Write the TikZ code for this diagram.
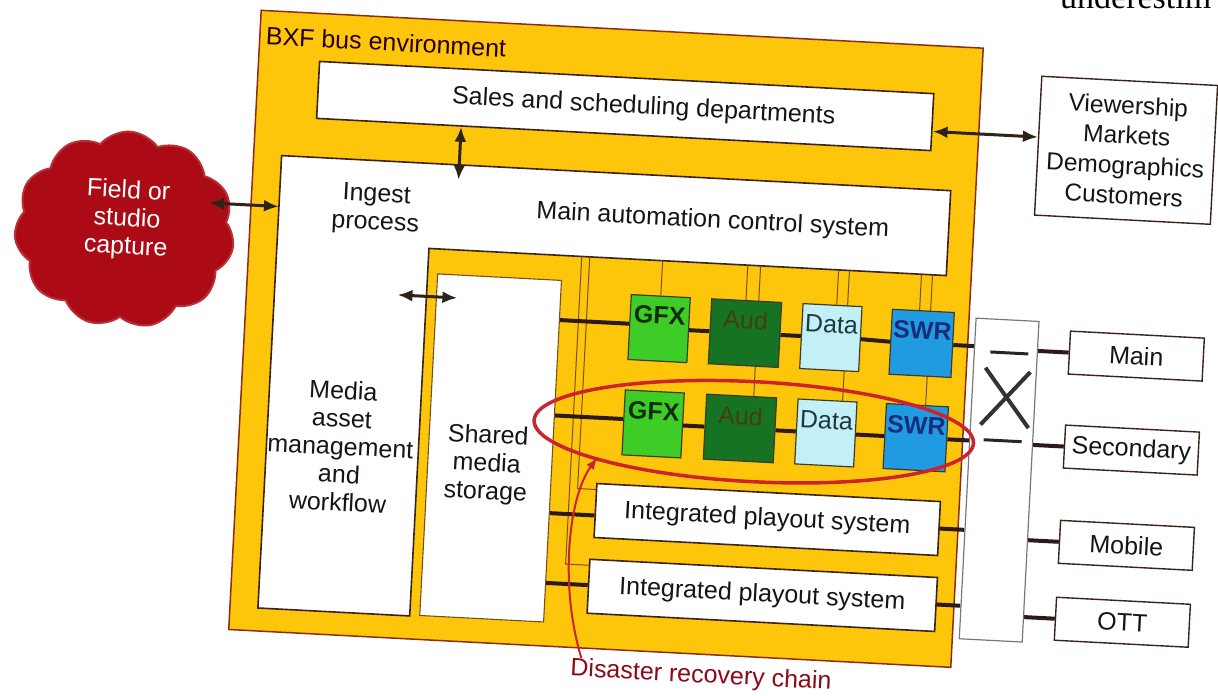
\documentclass[tikz,border=0pt]{standalone}
\usepackage{fontspec}
\setmainfont{Liberation Sans}
\newfontfamily\fragfont{Liberation Serif}
\usetikzlibrary{arrows.meta,shapes.symbols,calc}
\pgfdeclarelayer{base}
\pgfdeclarelayer{lines}
\pgfsetlayers{base,lines,main}
\definecolor{yel}{RGB}{253,198,10}
\definecolor{outerline}{RGB}{140,45,20}
\definecolor{boxline}{RGB}{60,35,25}
\definecolor{thinc}{RGB}{120,80,30}
\definecolor{connc}{RGB}{45,25,25}
\definecolor{arrc}{RGB}{45,35,25}
\definecolor{txt}{RGB}{25,20,20}
\definecolor{gfxc}{RGB}{62,205,38}
\definecolor{gfxt}{RGB}{12,45,12}
\definecolor{audc}{RGB}{22,115,35}
\definecolor{audt}{RGB}{70,60,20}
\definecolor{datc}{RGB}{195,240,246}
\definecolor{datt}{RGB}{30,55,65}
\definecolor{swrc}{RGB}{32,155,225}
\definecolor{swrt}{RGB}{25,45,120}
\definecolor{chipline}{RGB}{60,60,40}
\definecolor{ringc}{RGB}{205,35,45}
\definecolor{drcred}{RGB}{140,10,25}
\definecolor{cloudred}{RGB}{172,10,20}
\definecolor{xgray}{RGB}{120,120,120}
\newcommand\dfont{\fontsize{25}{28}\selectfont}
\newcommand\autoline[2]{%
  \coordinate (tmp) at ($(#1.north west)!#2!(#1.north east)$);
  \draw[thinln] ($(wIL)!(tmp)!(wBR)$) -- (tmp);}
\newcommand\storline[2]{%
  \coordinate (tmp) at ($(#1.north west)!#2!(#1.south west)$);
  \draw[conn] ($(stor.north east)!(tmp)!(stor.south east)$) -- (tmp);}
\newcommand\xin[1]{\draw[conn] (#1.east) -- ($(xbar.north west)!(#1.east)!(xbar.south west)$);}
\newcommand\xout[1]{\draw[conn] ($(xbar.north east)!(#1.west)!(xbar.south east)$) -- (#1.west);}
\tikzset{
  lab/.style={font=\dfont, align=center, text=txt, inner sep=0pt},
  wbox/.style={draw=boxline, line width=1.6pt, fill=white, inner sep=0pt},
  sbox/.style={draw=thinc, line width=1.1pt, fill=white, inner sep=0pt},
  obox/.style={draw=boxline, line width=1.4pt, fill=white, inner sep=0pt, minimum width=134pt, minimum height=43pt},
  xbox/.style={draw=xgray, line width=1.2pt, fill=white, inner sep=0pt},
  chip/.style={draw=chipline, line width=1.2pt, minimum height=65pt, inner sep=0pt},
  chiptxt/.style={font=\dfont, inner sep=0pt},
  thinln/.style={draw=thinc, line width=1pt},
  conn/.style={draw=connc, line width=4pt},
  dbl/.style={draw=arrc, line width=3pt, arrows={Latex[length=15pt,width=12pt]-Latex[length=15pt,width=12pt]}},
  ring/.style={draw=ringc, line width=3.5pt},
  redarr/.style={draw=ringc, line width=2pt, arrows={-Latex[length=12pt,width=9pt]}}
}
\begin{document}
\begin{tikzpicture}[x=1pt,y=-1pt]
\useasboundingbox (0,0) rectangle (1218,696);
\begin{pgfonlayer}{base}
\fill[white] (0,0) rectangle (1218,696);
\end{pgfonlayer}
\begin{scope}[rotate around={-3:(609,348)}, transform shape]
\begin{pgfonlayer}{base}
\filldraw[fill=yel, draw=outerline, line width=1.5pt] (244,29) rectangle (967,649);
\filldraw[fill=white, draw=boxline, line width=1.6pt] (272,173) -- (942,173) -- (942,258) -- (424,258) -- (424,626) -- (272,626) -- cycle;
\end{pgfonlayer}
\coordinate (wTL) at (272,173);
\coordinate (wBL) at (272,626);
\coordinate (wIL) at (424,258);
\coordinate (wBR) at (942,258);
% labels in the bus
\node[lab, anchor=west, text=black!85!red] (bxf) at (250,54) {BXF bus environment};
\node[wbox, minimum width=615pt, minimum height=57pt] (sales) at (612.5,105.5) {};
\node[lab] (salesT) at (631,106) {Sales and scheduling departments};
\node[lab] (ingest) at (369,222) {Ingest\\process};
\node[lab] (mainauto) at (706,216) {Main automation control system};
\node[lab] (mam) at (346,460) {Media\\asset\\management\\and\\workflow};
\node[sbox, minimum width=124pt, minimum height=342pt] (stor) at (496,454) {};
\node[lab] (storT) at (493,471) {Shared\\media\\storage};
% chains
\node[chip, fill=gfxc, minimum width=59pt] (g1) at (658,326) {};
\node[chip, fill=audc, minimum width=70pt] (a1) at (744,326) {};
\node[chip, fill=datc, minimum width=59pt] (d1) at (830,326) {};
\node[chip, fill=swrc, minimum width=62pt] (s1) at (921,327) {};
\node[chip, fill=gfxc, minimum width=59pt] (g2) at (657,421.5) {};
\node[chip, fill=audc, minimum width=70pt] (a2) at (744,421.5) {};
\node[chip, fill=datc, minimum width=59pt] (d2) at (830,421.5) {};
\node[chip, fill=swrc, minimum width=62pt] (s2) at (920,421.5) {};
\node[chiptxt, text=gfxt, font=\dfont\bfseries] (g1t) at (658,313) {GFX};
\node[chiptxt, text=audt] (a1t) at (744,313) {Aud};
\node[chiptxt, text=datt] (d1t) at (830,313) {Data};
\node[chiptxt, text=swrt, font=\dfont\bfseries] (s1t) at (921,314) {SWR};
\node[chiptxt, text=gfxt, font=\dfont\bfseries] (g2t) at (657,409) {GFX};
\node[chiptxt, text=audt] (a2t) at (744,409) {Aud};
\node[chiptxt, text=datt] (d2t) at (830,409) {Data};
\node[chiptxt, text=swrt, font=\dfont\bfseries] (s2t) at (920,409) {SWR};
% playout
\node[wbox, lab, minimum width=344pt, minimum height=54pt] (p1) at (776,511) {Integrated playout system};
\node[wbox, lab, minimum width=348pt, minimum height=54pt] (p2) at (775,587) {Integrated playout system};
% crossbar and outputs
\node[xbox, minimum width=63pt, minimum height=321pt] (xbar) at (1005.5,459.5) {};
\node[obox, lab] (om) at (1136,328.5) {Main};
\node[obox, lab] (osec) at (1136,422.6) {Secondary};
\node[obox, lab] (omob) at (1136,518) {Mobile};
\node[obox, lab] (oott) at (1136,595) {OTT};
\node[obox, lab, minimum width=176pt, minimum height=139pt, font=\fontsize{24.5}{30}\selectfont] (view) at (1115,123.5) {Viewership\\Markets\\Demographics\\Customers};
% cloud
\node[cloud, cloud puffs=11, cloud puff arc=105, aspect=1.15, fill=cloudred, draw=cloudred!85!white, line width=2pt, minimum width=220pt, minimum height=196pt, inner sep=0pt] (cloud) at (119,255) {};
\node[lab, text=white] (cloudT) at (121,245) {Field or\\studio\\capture};
\coordinate (cloudTip) at (202,224);
% lines layer
\begin{pgfonlayer}{lines}
\autoline{g1}{0.5}
\autoline{a1}{0.49}
\autoline{a2}{0.67}
\autoline{d1}{0.57}
\autoline{d2}{0.75}
\autoline{s1}{0.44}
\autoline{s2}{0.63}
\coordinate (lA0) at (585,258);
\coordinate (lA1) at (585,490);
\draw[thinln] (lA0) -- (lA1) -- ($(p1.north west)!(lA1)!(p1.south west)$);
\coordinate (lB0) at (577,258);
\coordinate (lB1) at (577,566);
\draw[thinln] (lB0) -- (lB1) -- ($(p2.north west)!(lB1)!(p2.south west)$);
\storline{g1}{0.45}
\storline{g2}{0.45}
\storline{p1}{0.59}
\storline{p2}{0.48}
\draw[conn] (g1.east) -- (a1.west);
\draw[conn] (a1.east) -- (d1.west);
\draw[conn] (d1.east) -- (s1.west);
\draw[conn] (g2.east) -- (a2.west);
\draw[conn] (a2.east) -- (d2.west);
\draw[conn] (d2.east) -- (s2.west);
\xin{s1}
\xin{s2}
\xin{p1}
\xin{p2}
\xout{om}
\xout{osec}
\xout{omob}
\xout{oott}
\end{pgfonlayer}
% crossbar marks
\draw[draw=black!80, line width=4pt] (986,348) -- (1032,406);
\draw[draw=black!80, line width=4pt] (1031,350) -- (984,405);
\draw[draw=black!85, line width=3pt] (990,332) -- (1028,332);
\draw[draw=black!85, line width=3pt] (988,420) -- (1026,420);
% double arrows
\draw[dbl] (cloudTip) -- ($(wTL)!(cloudTip)!(wBL)$);
\coordinate (saS) at ($(sales.south west)!0.236!(sales.south east)$);
\coordinate (saE) at (450,188);
\draw[dbl] (saS) -- (saE);
\coordinate (svS) at ($(sales.north east)!0.66!(sales.south east)$);
\draw[dbl] (svS) -- ($(view.north west)!(svS)!(view.south west)$);
\coordinate (msL) at (395,306);
\coordinate (msR) at (455,306);
\draw[dbl] (msL) -- (msR);
% disaster recovery
\draw[ring] (758,424) ellipse [x radius=220pt, y radius=50pt];
\node[lab, text=drcred] (drc) at (718,671) {Disaster recovery chain};
\coordinate (drcS) at ($(drc.north west)!0.04!(drc.north east)$);
\coordinate (drcTip) at (603,458);
\draw[redarr] (drcS) .. controls (572,588) and (576,500) .. (drcTip);
\end{scope}
\node[font=\fragfont\fontsize{34}{36}\selectfont, anchor=base west, inner sep=0pt] (frag) at (1060,9) {underestim};
\end{tikzpicture}
\end{document}
